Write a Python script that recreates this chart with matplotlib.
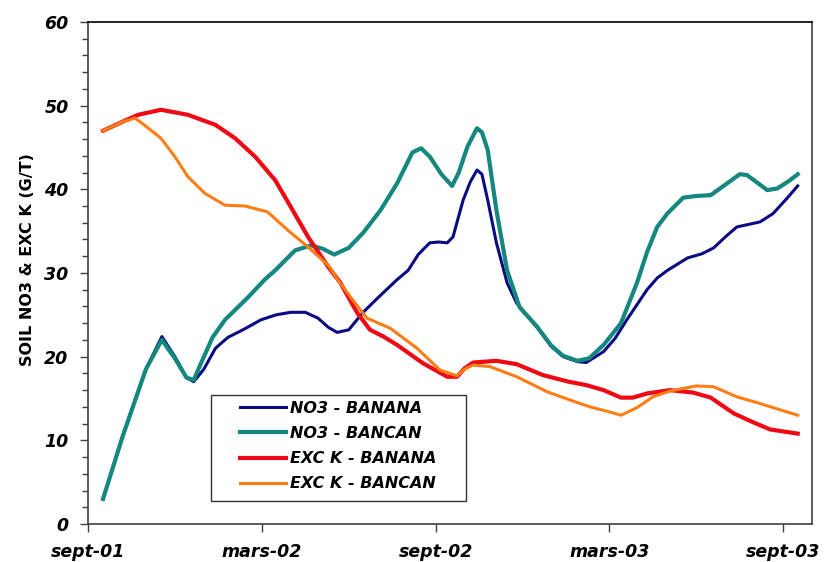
import matplotlib.pyplot as plt
from matplotlib.ticker import MultipleLocator
from matplotlib.patches import Rectangle
from matplotlib.font_manager import FontProperties

# months since sept-01 and values (g/t)
no3_banana_m = [0.52, 1.2, 2.0, 2.55, 3.0, 3.4, 3.65, 4.0, 4.4, 4.83, 5.4, 5.97, 6.5, 7.0, 7.5, 7.94, 8.3, 8.6,
                9.0, 9.5, 10.0, 10.67, 11.05, 11.4, 11.8, 12.1, 12.4, 12.6, 12.95, 13.2, 13.43, 13.6, 13.8,
                14.1, 14.47, 14.8, 15.5, 16.0, 16.4, 16.9, 17.2, 17.8, 18.2, 18.6, 19.3, 19.65, 20.0, 20.7,
                21.2, 21.6, 22.0, 22.4, 23.2, 23.65, 24.1, 24.5]
no3_banana = [3.0, 10.5, 18.5, 22.4, 20.0, 17.5, 17.0, 18.5, 21.0, 22.3, 23.3, 24.4, 25.0, 25.3, 25.3, 24.6, 23.5, 22.9,
              23.2, 25.3, 27.0, 29.2, 30.3, 32.2, 33.6, 33.7, 33.6, 34.3, 38.7, 40.9, 42.3, 41.8, 38.7,
              33.6, 28.8, 26.4, 23.5, 21.2, 20.0, 19.4, 19.3, 20.6, 22.2, 24.4, 28.0, 29.4, 30.3, 31.8,
              32.3, 33.0, 34.3, 35.5, 36.1, 37.1, 38.8, 40.4]

no3_bancan_m = [0.52, 1.2, 2.0, 2.55, 3.0, 3.4, 3.65, 3.9, 4.3, 4.73, 5.5, 6.1, 6.46, 7.15, 7.7, 8.1, 8.5, 9.0,
                9.5, 10.1, 10.67, 11.2, 11.5, 11.8, 12.2, 12.57, 12.8, 13.1, 13.43, 13.6, 13.8, 14.1, 14.47,
                14.9, 15.5, 16.0, 16.4, 16.9, 17.3, 17.8, 18.4, 18.95, 19.3, 19.65, 20.0, 20.55, 21.0, 21.5,
                21.9, 22.5, 22.75, 23.1, 23.45, 23.8, 24.2, 24.5]
no3_bancan = [3.0, 10.5, 18.5, 22.0, 19.8, 17.5, 17.2, 19.2, 22.3, 24.4, 27.0, 29.2, 30.3, 32.7, 33.3, 32.9, 32.2, 33.0,
              34.8, 37.5, 40.7, 44.4, 44.9, 43.9, 41.8, 40.4, 42.0, 45.1, 47.3, 46.8, 44.7, 37.5, 30.3,
              25.9, 23.6, 21.3, 20.1, 19.5, 19.8, 21.4, 24.0, 28.8, 32.5, 35.5, 37.1, 39.0, 39.2, 39.3,
              40.3, 41.8, 41.7, 40.8, 39.9, 40.1, 41.0, 41.8]

k_banana_m = [0.52, 1.15, 1.73, 2.52, 3.45, 4.4, 5.08, 5.77, 6.46, 7.0, 7.6, 8.3, 8.7, 9.3, 9.74, 10.2, 10.67,
              11.57, 12.4, 12.74, 13.0, 13.3, 14.1, 14.8, 15.7, 16.6, 17.2, 17.8, 18.4, 18.8, 19.3, 20.1,
              20.9, 21.5, 22.3, 23.0, 23.55, 24.5]
k_banana = [47.0, 48.0, 48.9, 49.5, 48.9, 47.7, 46.1, 43.9, 41.1, 37.9, 34.3, 30.7, 28.9, 25.2, 23.2, 22.4, 21.4,
            19.2, 17.6, 17.6, 18.6, 19.3, 19.5, 19.1, 17.8, 17.0, 16.6, 16.0, 15.1, 15.1, 15.6, 16.0,
            15.7, 15.1, 13.2, 12.1, 11.3, 10.8]

k_bancan_m = [0.52, 1.15, 1.62, 1.83, 2.52, 3.0, 3.45, 4.04, 4.73, 5.42, 6.2, 6.9, 7.6, 8.3, 8.7, 9.2, 9.63,
              10.43, 11.36, 12.15, 12.74, 13.0, 13.3, 13.88, 14.8, 15.85, 16.9, 17.33, 18.0, 18.4, 18.95,
              19.5, 20.1, 21.0, 21.6, 22.4, 23.1, 24.5]
k_bancan = [47.0, 48.0, 48.5, 48.0, 46.1, 43.9, 41.5, 39.5, 38.1, 38.0, 37.3, 35.1, 33.1, 30.9, 28.8, 26.5, 24.6,
            23.4, 21.0, 18.4, 17.7, 18.5, 19.0, 18.8, 17.6, 15.8, 14.5, 14.0, 13.4, 13.0, 13.9,
            15.2, 15.9, 16.5, 16.4, 15.2, 14.5, 13.0]

tick_months = [0, 6, 12, 18, 24]
tick_labels = ['sept-01', 'mars-02', 'sept-02', 'mars-03', 'sept-03']

fig = plt.figure(figsize=(8.33, 5.62), dpi=100)
ax = fig.add_axes([0.1056, 0.0676, 0.8694, 0.8934])

ax.plot(no3_banana_m, no3_banana, color='#0a0a82', lw=2.2, label='NO3 - BANANA')
ax.plot(no3_bancan_m, no3_bancan, color='#14877f', lw=3.0, label='NO3 - BANCAN')
ax.plot(k_banana_m, k_banana, color='#ee0a14', lw=3.0, label='EXC K - BANANA')
ax.plot(k_bancan_m, k_bancan, color='#ff7d14', lw=2.2, label='EXC K - BANCAN')

ax.set_xlim(0, 25.0)
ax.set_ylim(0, 60)
ax.set_xticks(tick_months)
ax.set_xticklabels(tick_labels)
ax.yaxis.set_major_locator(MultipleLocator(10))
ax.yaxis.set_minor_locator(MultipleLocator(2))
ax.tick_params(axis='both', which='major', length=6, width=1, color='#404040', pad=8)
ax.tick_params(axis='y', which='minor', length=4, width=1, color='#404040')

for lab in ax.get_xticklabels() + ax.get_yticklabels():
    lab.set_fontsize(12.5)
    lab.set_fontweight('bold')
    lab.set_fontstyle('italic')
    lab.set_fontfamily('DejaVu Sans')

ylab_font = FontProperties(family='DejaVu Sans', weight='bold', size=11.5)
ax.set_ylabel('SOIL NO3 & EXC K (G/T)', fontproperties=ylab_font)
ax.yaxis.set_label_coords(-0.073, 0.526)

for s in ax.spines.values():
    s.set_color('#404040')
    s.set_linewidth(1.2)
ax.spines['top'].set_color('black')

# legend with a box drawn around it like the original
leg = ax.legend(loc='upper left', bbox_to_anchor=(240 / 833, 1 - 401 / 562), bbox_transform=fig.transFigure,
                frameon=False, borderpad=0, borderaxespad=0, handlelength=2.9, handletextpad=0.25,
                labelspacing=0.63, prop={'size': 11.5, 'style': 'italic', 'weight': 'bold'})
fig.patches.append(Rectangle((211 / 833, 1 - 501 / 562), 255 / 833, 106 / 562, transform=fig.transFigure,
                             facecolor='none', edgecolor='#333333', lw=1.0))

plt.savefig('out.png', dpi=100)
